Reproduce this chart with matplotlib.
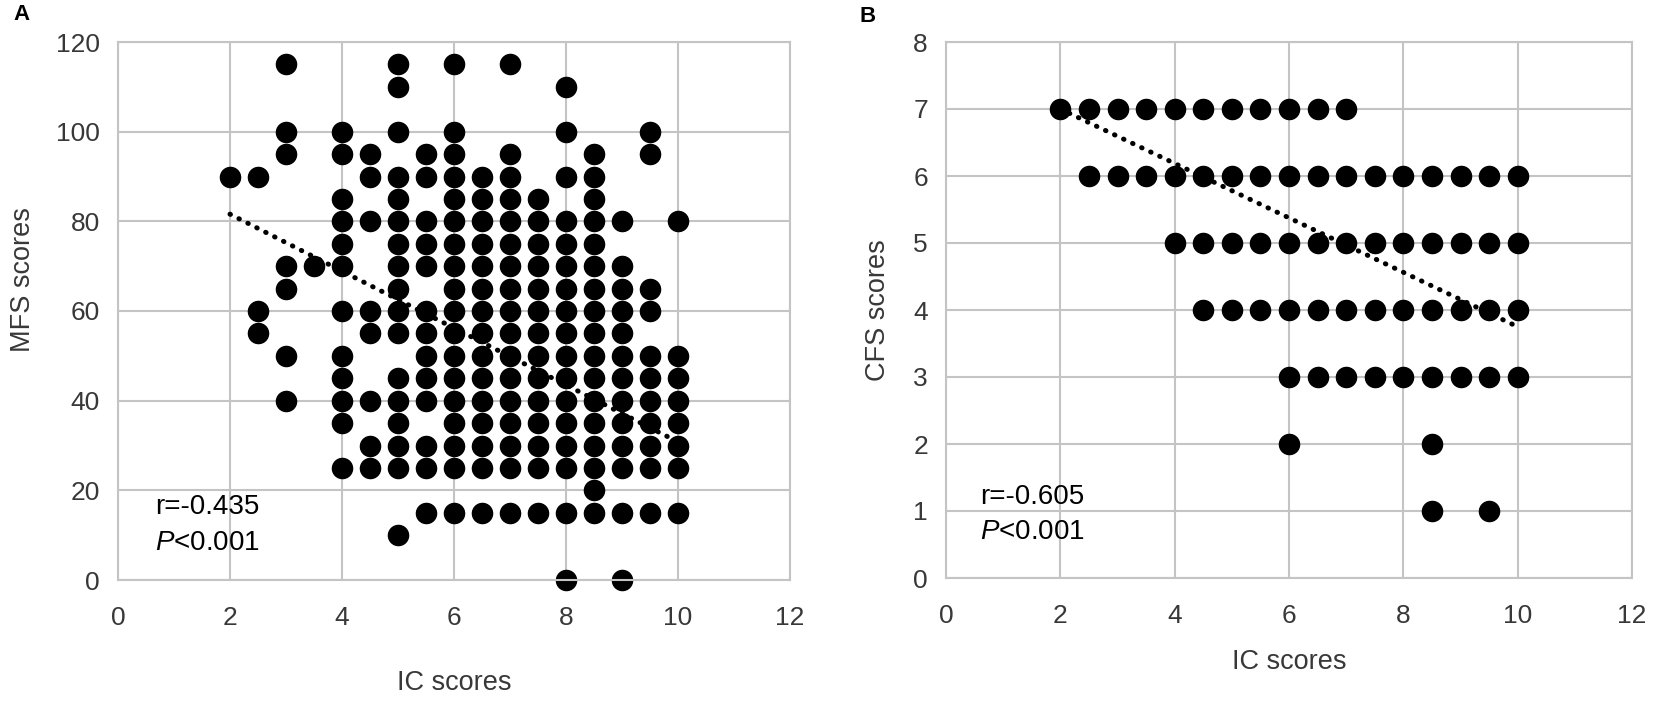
import matplotlib
matplotlib.use("Agg")
import matplotlib.pyplot as plt

plt.rcParams["font.family"] = ["Liberation Sans", "DejaVu Sans"]
plt.rcParams["mathtext.fontset"] = "custom"
plt.rcParams["mathtext.it"] = "Liberation Sans:italic"
plt.rcParams["mathtext.rm"] = "Liberation Sans"

# panel A: IC scores (x) vs MFS scores (y), one list of MFS values per IC level
ic_levels_a = [2, 2.5, 3, 3.5, 4, 4.5, 5, 5.5, 6, 6.5, 7, 7.5, 8, 8.5, 9, 9.5, 10]
mfs_cols_a = [
    [90],
    [90, 60, 55],
    [115, 100, 95, 70, 65, 50, 40],
    [70],
    [100, 95, 85, 80, 75, 70, 60, 50, 45, 40, 35, 25],
    [95, 90, 80, 60, 55, 40, 30, 25],
    [115, 110, 100, 90, 85, 80, 75, 70, 65, 60, 55, 45, 40, 35, 30, 25, 10],
    [95, 90, 80, 75, 70, 60, 55, 50, 45, 40, 30, 25, 15],
    [115, 100, 95, 90, 85, 80, 75, 70, 65, 60, 55, 50, 45, 40, 35, 30, 25, 15],
    [90, 85, 80, 75, 70, 65, 60, 55, 50, 45, 40, 35, 30, 25, 15],
    [115, 95, 90, 85, 80, 75, 70, 65, 60, 55, 50, 45, 40, 35, 30, 25, 15],
    [85, 80, 75, 70, 65, 60, 55, 50, 45, 40, 35, 30, 25, 15],
    [110, 100, 90, 80, 75, 70, 65, 60, 55, 50, 45, 40, 35, 30, 25, 15, 0],
    [95, 90, 85, 80, 75, 70, 65, 60, 55, 50, 45, 40, 35, 30, 25, 20, 15],
    [80, 70, 65, 60, 55, 50, 45, 40, 35, 30, 25, 15, 0],
    [100, 95, 65, 60, 50, 45, 40, 35, 30, 25, 15],
    [80, 50, 45, 40, 35, 30, 25, 15],
]
trend_x_a = [2, 10]
trend_y_a = [81.6, 30.8]

# panel B: IC scores (x) vs CFS scores (y), one list of IC values per CFS level
cfs_levels_b = [7, 6, 5, 4, 3, 2, 1]
ic_rows_b = [
    [2, 2.5, 3, 3.5, 4, 4.5, 5, 5.5, 6, 6.5, 7],
    [2.5, 3, 3.5, 4, 4.5, 5, 5.5, 6, 6.5, 7, 7.5, 8, 8.5, 9, 9.5, 10],
    [4, 4.5, 5, 5.5, 6, 6.5, 7, 7.5, 8, 8.5, 9, 9.5, 10],
    [4.5, 5, 5.5, 6, 6.5, 7, 7.5, 8, 8.5, 9, 9.5, 10],
    [6, 6.5, 7, 7.5, 8, 8.5, 9, 9.5, 10],
    [6, 8.5],
    [8.5, 9.5],
]
trend_x_b = [2, 10]
trend_y_b = [7.0, 3.75]

x_a = [ic for ic, col in zip(ic_levels_a, mfs_cols_a) for _ in col]
y_a = [v for col in mfs_cols_a for v in col]
x_b = [v for row in ic_rows_b for v in row]
y_b = [cfs for cfs, row in zip(cfs_levels_b, ic_rows_b) for _ in row]

W, H = 1653, 701
grid_col = "#c4c4c4"
text_col = "#383838"


def style_axes(ax, ylim, yticks):
    ax.set_xlim(0, 12)
    ax.set_ylim(*ylim)
    ax.set_xticks(range(0, 13, 2))
    ax.set_yticks(yticks)
    ax.grid(True, color=grid_col, linewidth=1.5)
    ax.set_axisbelow(True)
    for sp in ax.spines.values():
        sp.set_color(grid_col)
        sp.set_linewidth(1.5)
    ax.tick_params(length=0, labelsize=19, labelcolor=text_col)
    ax.tick_params(axis="x", pad=19)
    ax.tick_params(axis="y", pad=13)


fig = plt.figure(figsize=(W / 100, H / 100), dpi=100)

ax_a = fig.add_axes([118 / W, 1 - 580 / H, 672 / W, 538 / H])
style_axes(ax_a, (0, 120), range(0, 121, 20))
ax_a.plot(x_a, y_a, "o", color="black", markersize=14.5, clip_on=False, zorder=2)
ax_a.plot(trend_x_a, trend_y_a, color="black", linewidth=3.6,
          linestyle=(0, (0.1, 1.9)), dash_capstyle="round", zorder=3)
ax_a.text(0.66, 16.3, "r=-0.435", fontsize=20, color="black", va="center")
ax_a.text(0.66, 8.3, "$P$<0.001", fontsize=20, color="black", va="center")
ax_a.set_xlabel("IC scores", fontsize=19.5, color=text_col, va="center")
ax_a.xaxis.set_label_coords(0.5, (580 - 683) / 538)
ax_a.set_ylabel("MFS scores", fontsize=19.5, color=text_col, va="center")
ax_a.yaxis.set_label_coords((23 - 118) / 672, (580 - 280) / 538)

ax_b = fig.add_axes([946 / W, 1 - 578 / H, 686 / W, 536 / H])
style_axes(ax_b, (0, 8), range(0, 9))
ax_b.plot(x_b, y_b, "o", color="black", markersize=14.5, clip_on=False, zorder=2)
ax_b.plot(trend_x_b, trend_y_b, color="black", linewidth=3.6,
          linestyle=(0, (0.1, 1.9)), dash_capstyle="round", zorder=3)
ax_b.text(0.6, 1.21, "r=-0.605", fontsize=20, color="black", va="center")
ax_b.text(0.6, 0.69, "$P$<0.001", fontsize=20, color="black", va="center")
ax_b.set_xlabel("IC scores", fontsize=19.5, color=text_col, va="center")
ax_b.xaxis.set_label_coords(0.5, (578 - 662) / 536)
ax_b.set_ylabel("CFS scores", fontsize=19.5, color=text_col, va="center")
ax_b.yaxis.set_label_coords((878 - 946) / 686, 0.5)

fig.text(22 / W, 1 - 15 / H, "A", fontsize=16, fontweight="bold", ha="center", va="center")
fig.text(868 / W, 1 - 17 / H, "B", fontsize=16, fontweight="bold", ha="center", va="center")

fig.savefig("out.png", dpi=100)
